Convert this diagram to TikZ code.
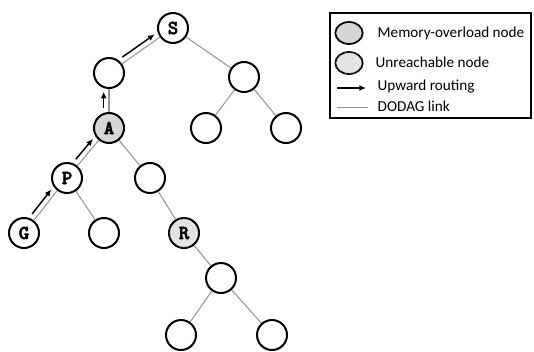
\documentclass[tikz,border=0pt]{standalone}
\usepackage{fontspec}
\setmainfont{Carlito}
\newfontfamily\monob[FakeBold=2.5]{lmmonolt10-bold.otf}
\usetikzlibrary{arrows.meta,calc,patterns,shapes.geometric}
\definecolor{linkgray}{RGB}{150,150,150}
\definecolor{overload}{RGB}{214,214,214}
\definecolor{unreach}{RGB}{232,232,232}

\tikzset{
  tnode/.style={circle,draw=black,line width=1.5pt,minimum size=22.5pt,inner sep=0pt,
    font=\monob\fontsize{15}{15}\selectfont},
  memnode/.style={tnode,fill=overload},
  lostnode/.style={tnode,fill=unreach,postaction={pattern=crosshatch dots,pattern color=black!25}},
  link/.style={draw=linkgray,line width=0.8pt},
  route/.style={draw=black,line width=1.1pt,-{Latex[length=5pt,width=4.5pt]},shorten <=15pt,shorten >=14pt},
  legtext/.style={anchor=west,font=\fontsize{11.4}{13}\selectfont}
}

\begin{document}
\begin{tikzpicture}[x=0.75pt,y=-0.75pt]
  \useasboundingbox (0,0) rectangle (534,351);
  % tree
  \node[tnode] (S) at (173,28) {S};
  \node[memnode] (A) at (109,128) {A};
  \node[tnode] (P) at (67,178) {P};
  \node[tnode] (G) at (24,233) {G};
  \node[lostnode] (R) at (184,233) {R};
  \foreach \name/\x/\y in {n1/109/73,n2/244/77,n3/206/128,n4/286/128,n5/150/178,
      n6/104/233,n7/221/278,n8/181/335,n9/272/335}{
    \node[tnode] (\name) at (\x,\y) {};
  }
  \foreach \a/\b in {S/n1,S/n2,n1/A,n2/n3,n2/n4,A/P,A/n5,P/G,P/n6,n5/R,R/n7,n7/n8,n7/n9}
    \draw[link] (\a) -- (\b);
  % upward route
  \foreach \a/\b in {G/P,P/A,A/n1,n1/S}
    \draw[route] ($(\a)!4pt!90:(\b)$) -- ($(\b)!4pt!-90:(\a)$);

  % legend
  \draw[line width=1.5pt] (330,13) rectangle (531,118);
  \node[ellipse,draw=black,line width=1.3pt,fill=overload,minimum width=20.5pt,minimum height=16.5pt,inner sep=0pt] (kmem) at (349,33) {};
  \node[ellipse,draw=black,line width=1.3pt,fill=unreach,minimum width=20.5pt,minimum height=16.5pt,inner sep=0pt,
    postaction={pattern=crosshatch dots,pattern color=black!25}] (klost) at (349,63) {};
  \coordinate (ka1) at (337,88);
  \coordinate (ka2) at (366,88);
  \coordinate (kl1) at (337,107);
  \coordinate (kl2) at (368,107);
  \draw[line width=1.1pt,-{Latex[length=5pt,width=4.5pt]}] (ka1) -- (ka2);
  \draw[linkgray,line width=0.6pt] (kl1) -- (kl2);
  \node[legtext] (tmem) at (373,33) {Memory-overload node};
  \node[legtext] (tlost) at (371,62) {Unreachable node};
  \node[legtext] (tup) at (373,87) {Upward routing};
  \node[legtext] (tlink) at (373,106) {DODAG link};
\end{tikzpicture}
\end{document}
